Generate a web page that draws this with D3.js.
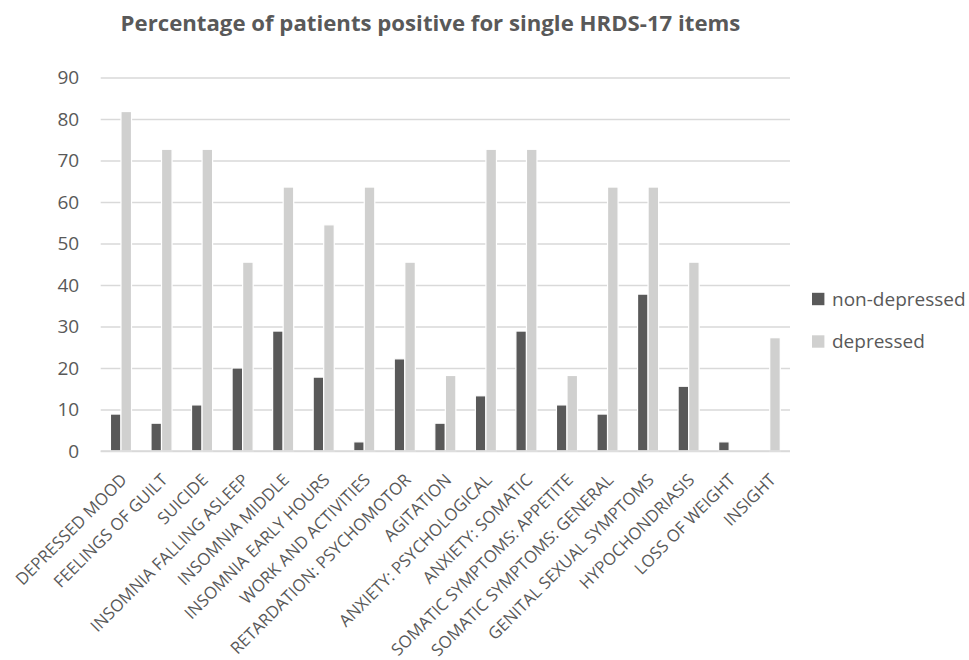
<!DOCTYPE html>
<html>
<head>
<meta charset="utf-8">
<script src="https://cdn.jsdelivr.net/npm/d3@7"></script>
<style>
  body { margin: 0; background: #fff; }
  text { font-family: "Open Sans", "Noto Sans", sans-serif; fill: #595959; }
</style>
</head>
<body>
<svg id="viewer"></svg>
<script>
// categories (HRDS-17 items)
var items = ['DEPRESSED MOOD', 'FEELINGS OF GUILT', 'SUICIDE', 'INSOMNIA FALLING ASLEEP',
  'INSOMNIA MIDDLE', 'INSOMNIA EARLY HOURS', 'WORK AND ACTIVITIES', 'RETARDATION: PSYCHOMOTOR',
  'AGITATION', 'ANXIETY: PSYCHOLOGICAL', 'ANXIETY: SOMATIC', 'SOMATIC SYMPTOMS: APPETITE',
  'SOMATIC SYMPTOMS: GENERAL', 'GENITAL SEXUAL SYMPTOMS', 'HYPOCHONDRIASIS', 'LOSS OF WEIGHT', 'INSIGHT'];
// series values (% positive)
var nonDepressed = [8.9, 6.7, 11.1, 20.0, 28.9, 17.8, 2.2, 22.2, 6.7, 13.3, 28.9, 11.1, 8.9, 37.8, 15.6, 2.2, 0];
var depressed = [81.8, 72.7, 72.7, 45.5, 63.6, 54.5, 63.6, 45.5, 18.2, 72.7, 72.7, 18.2, 63.6, 63.6, 45.5, 0, 27.3];
var seriesNames = ['non-depressed', 'depressed'];
var yTicks = [0, 10, 20, 30, 40, 50, 60, 70, 80, 90];

var colors = {'non-depressed': '#595959', 'depressed': '#d0d0cf'};

var W = 969, H = 660;
var plotLeft = 100.7, plotRight = 790, plotTop = 77.5, plotBottom = 451;

var viewer = d3.select('#viewer')
  .attr('width', W)
  .attr('height', H);

var x0 = d3.scaleBand()
  .domain(items)
  .range([plotLeft, plotRight])
  .paddingInner(0.48)
  .paddingOuter(0.24);
var x1 = d3.scaleBand()
  .domain(seriesNames)
  .range([0, x0.bandwidth()]);
var y = d3.scaleLinear()
  .domain([0, 90])
  .range([plotBottom, plotTop]);

// title
viewer.append('text')
  .attr('x', 430.5)
  .attr('y', 31)
  .attr('text-anchor', 'middle')
  .style('font-size', '22.2px')
  .style('font-weight', 'bold')
  .text('Percentage of patients positive for single HRDS-17 items');

// gridlines + y labels
var yAxis = viewer.append('g')
  .attr('transform', 'translate(' + plotLeft + ',0)')
  .call(d3.axisLeft(y).tickValues(yTicks).tickSize(-(plotRight - plotLeft)).tickPadding(21.5));
yAxis.select('.domain').remove();
yAxis.selectAll('.tick line').attr('stroke', '#d9d9d9').attr('stroke-width', 1.3);
yAxis.selectAll('.tick text')
  .attr('font-family', null)
  .attr('font-size', null)
  .style('font-size', '19px')
  .style('fill', '#595959');

// bars
var rows = items.map(function(item, i){
  return {item: item, values: [
    {name: 'non-depressed', value: nonDepressed[i]},
    {name: 'depressed', value: depressed[i]}
  ]};
});
var groups = viewer.selectAll('.group')
  .data(rows)
  .enter().append('g')
    .attr('class', 'group')
    .attr('transform', function(d){ return 'translate(' + x0(d.item) + ',0)'; });
groups.selectAll('rect')
  .data(function(d){ return d.values; })
  .enter().append('rect')
    .attr('x', function(d){ return x1(d.name); })
    .attr('width', x1.bandwidth())
    .attr('y', function(d){ return y(d.value); })
    .attr('height', function(d){ return plotBottom - y(d.value); })
    .style('fill', function(d){ return colors[d.name]; })
    .style('stroke', '#fff')
    .style('stroke-width', 1.2);

// x axis line
viewer.append('line')
  .attr('x1', plotLeft).attr('x2', plotRight)
  .attr('y1', plotBottom).attr('y2', plotBottom)
  .attr('stroke', '#d9d9d9').attr('stroke-width', 1.3);

// x labels, rotated (anchor = end of baseline)
viewer.selectAll('.xlabel')
  .data(items)
  .enter().append('text')
    .attr('class', 'xlabel')
    .attr('text-anchor', 'end')
    .attr('transform', function(d){
      return 'translate(' + (x0(d) + x0.bandwidth() / 2 + 7) + ',' + (plotBottom + 30) + ') rotate(-45)';
    })
    .style('font-size', '16.8px')
    .text(function(d){ return d; });

// legend
var legend = viewer.selectAll('.legend')
  .data(seriesNames)
  .enter().append('g')
    .attr('class', 'legend')
    .attr('transform', function(d, i){ return 'translate(812,' + (299 + i * 42.5) + ')'; });
legend.append('rect')
  .attr('x', 0).attr('y', -6.2)
  .attr('width', 12.4).attr('height', 12.4)
  .style('fill', function(d){ return colors[d]; });
legend.append('text')
  .attr('x', 20)
  .attr('dy', '0.35em')
  .style('font-size', '19px')
  .text(function(d){ return d; });
</script>
</body>
</html>
